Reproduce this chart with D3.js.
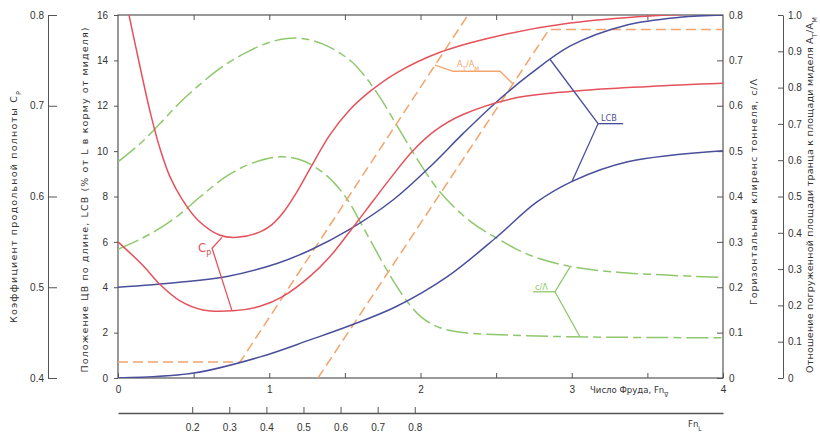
<!DOCTYPE html>
<html>
<head>
<meta charset="utf-8">
<script src="https://cdn.jsdelivr.net/npm/d3@7"></script>
<style>
  body { margin: 0; background: #fff; }
  svg { font-family: "DejaVu Sans Condensed", "DejaVu Sans", sans-serif; }
  .axis text { fill: #333; font-size: 10px; }
  .axis line, .axis path { stroke: #555; }
</style>
</head>
<body>
<svg id="chart" width="820" height="434"></svg>
<script>
// tick labels
const fnTicks = [0, 0.5, 1, 1.5, 2, 2.5, 3, 3.5, 4];
const fnLTicks = [0.2, 0.3, 0.4, 0.5, 0.6, 0.7, 0.8];
const lcbTicks = [0, 2, 4, 6, 8, 10, 12, 14, 16];
const cpTicks = [0.4, 0.5, 0.6, 0.7, 0.8];
const clTicks = [0, 0.1, 0.2, 0.3, 0.4, 0.5, 0.6, 0.7, 0.8];
const atTicks = [0, 0.1, 0.2, 0.3, 0.4, 0.5, 0.6, 0.7, 0.8, 0.9, 1.0];

// series: [Fn_V, value]
const cpUpper = [[0.06, 0.81], [0.145, 0.7435], [0.212, 0.6936], [0.278, 0.6526], [0.344, 0.6216], [0.423, 0.5972],
  [0.522, 0.575], [0.674, 0.5573], [0.787, 0.555], [0.939, 0.561], [1.018, 0.569], [1.091, 0.582], [1.177, 0.6035],
  [1.269, 0.6305], [1.402, 0.6681], [1.534, 0.6958], [1.666, 0.7158], [1.845, 0.7366], [2.129, 0.759],
  [2.506, 0.7767], [2.988, 0.7911], [3.517, 0.7989], [4.0, 0.802]];
const cpLower = [[0, 0.550], [0.165, 0.524], [0.278, 0.503], [0.41, 0.485], [0.562, 0.475], [0.76, 0.474],
  [0.939, 0.479], [1.091, 0.490], [1.269, 0.512], [1.402, 0.534], [1.534, 0.5618], [1.686, 0.595], [1.798, 0.6194],
  [1.95, 0.6504], [2.096, 0.6726], [2.281, 0.6903], [2.612, 0.708], [2.988, 0.7158], [3.517, 0.7213], [4.0, 0.7247]];
const lcbUpper = [[0, 4.0], [0.39, 4.21], [0.721, 4.475], [1.051, 5.05], [1.269, 5.63], [1.534, 6.56], [1.818, 7.845],
  [2.063, 9.31], [2.281, 10.77], [2.506, 12.19], [2.724, 13.39], [2.988, 14.63], [3.365, 15.56], [3.716, 15.9], [4.0, 16.0]];
const lcbLower = [[0, 0], [0.5, 0.22], [0.94, 0.93], [1.27, 1.68], [1.53, 2.3], [1.84, 3.15], [2.18, 4.48],
  [2.51, 6.25], [2.77, 7.76], [3.01, 8.69], [3.37, 9.53], [4.0, 10.02]];
const clUpper = [[0, 0.4765], [0.1455, 0.5163], [0.2777, 0.5607], [0.4099, 0.6072], [0.5421, 0.6471], [0.6744, 0.6825],
  [0.8397, 0.7158], [1.005, 0.7402], [1.1835, 0.749], [1.3554, 0.7357], [1.5339, 0.7003], [1.6331, 0.6648],
  [1.7322, 0.6183], [1.8446, 0.5562], [1.9769, 0.4831], [2.1289, 0.41], [2.3273, 0.3457], [2.5058, 0.308],
  [2.724, 0.2704], [2.9884, 0.246], [3.319, 0.2327], [4.0, 0.2216]];
const clLower = [[0, 0.2837], [0.1455, 0.3058], [0.2777, 0.3302], [0.4099, 0.3612], [0.5421, 0.3989], [0.7207, 0.4454],
  [0.8926, 0.4742], [1.0711, 0.4875], [1.2231, 0.4787], [1.3818, 0.4454], [1.514, 0.3945], [1.6132, 0.3368],
  [1.719, 0.2726], [1.8182, 0.215], [1.9174, 0.1662], [2.0099, 0.133], [2.1289, 0.1108], [2.2942, 0.0997],
  [2.5256, 0.0953], [2.9884, 0.0909], [4.0, 0.0886]];
const atUpper = [[0, 0.044], [0.807, 0.044], [2.314, 1.0]];
const atLower = [[1.322, 0], [2.85, 0.96], [4.0, 0.96]];

// leader lines for the curve labels
const cpLeader = [[0.688, 0.555], [0.622, 0.543], [0.754, 0.474]];
const atLeader = [[2.096, 0.862], [2.215, 0.845], [2.526, 0.845], [2.612, 0.81]];
const lcbLeader = [[2.856, 14.05], [3.174, 11.21], [3.0, 8.64]];
const lcbUnder = [[3.174, 11.21], [3.34, 11.21]];
const clLeader = [[2.99, 0.2455], [2.889, 0.19], [3.054, 0.091]];
const clUnder = [[2.744, 0.19], [2.889, 0.19]];

const red = '#e5525b', green = '#8fc86c', blue = '#4a4f9c', orange = '#f2a56c';

const svg = d3.select('#chart');
svg.append('rect').attr('width', 820).attr('height', 434).attr('fill', '#fff');

const plotLeft = 118, plotRight = 723, plotTop = 15, plotBottom = 378;

const x = d3.scaleLinear().domain([0, 4]).range([plotLeft, plotRight]);
const xL = d3.scaleLinear().domain([0, 1.631]).range([plotLeft, plotRight]);
const yLcb = d3.scaleLinear().domain([0, 16]).range([plotBottom, plotTop]);
const yCp = d3.scaleLinear().domain([0.4, 0.8]).range([plotBottom, plotTop]);
const yCl = d3.scaleLinear().domain([0, 0.8]).range([plotBottom, plotTop]);
const yAt = d3.scaleLinear().domain([0, 1]).range([plotBottom, plotTop]);

const fmt1 = d => d === 0 ? '0' : d3.format('.1f')(d);

svg.append('clipPath').attr('id', 'clip')
  .append('rect').attr('x', plotLeft).attr('y', plotTop)
  .attr('width', plotRight - plotLeft).attr('height', plotBottom - plotTop);

// frame
svg.append('rect')
  .attr('x', plotLeft).attr('y', plotTop)
  .attr('width', plotRight - plotLeft).attr('height', plotBottom - plotTop)
  .attr('fill', 'none').attr('stroke', '#555').attr('stroke-width', 1.2);

// bottom Fn_V axis
svg.append('g').attr('class', 'axis')
  .attr('transform', `translate(0,${plotBottom})`)
  .call(d3.axisBottom(x).tickValues(fnTicks).tickSizeInner(-5).tickSizeOuter(0).tickPadding(8)
    .tickFormat(d => Number.isInteger(d) ? d : ''))
  .call(g => g.select('.domain').remove());

// top ticks
svg.append('g').attr('class', 'axis')
  .attr('transform', `translate(0,${plotTop})`)
  .call(d3.axisTop(x).tickValues(fnTicks.filter(d => d > 0 && d < 4)).tickSizeInner(-5).tickFormat(''))
  .call(g => g.select('.domain').remove());

// left LCB axis
svg.append('g').attr('class', 'axis')
  .attr('transform', `translate(${plotLeft},0)`)
  .call(d3.axisLeft(yLcb).tickValues(lcbTicks).tickSizeInner(4).tickSizeOuter(0).tickPadding(6))
  .call(g => g.select('.domain').remove());

// outer C_P axis
svg.append('g').attr('class', 'axis')
  .attr('transform', 'translate(48,0)')
  .call(d3.axisLeft(yCp).tickValues(cpTicks).tickSizeInner(-9).tickSizeOuter(0).tickPadding(4).tickFormat(fmt1));

// right c/Λ axis
svg.append('g').attr('class', 'axis')
  .attr('transform', `translate(${plotRight},0)`)
  .call(d3.axisRight(yCl).tickValues(clTicks).tickSizeInner(-6).tickSizeOuter(0).tickPadding(6).tickFormat(fmt1))
  .call(g => g.select('.domain').remove());

// far right A_T/A_M axis
svg.append('g').attr('class', 'axis')
  .attr('transform', 'translate(783,0)')
  .call(d3.axisRight(yAt).tickValues(atTicks).tickSizeInner(-5).tickSizeOuter(0).tickPadding(5).tickFormat(fmt1));

// secondary Fn_L axis
svg.append('g').attr('class', 'axis')
  .attr('transform', 'translate(0,413)')
  .call(d3.axisBottom(xL).tickValues(fnLTicks).tickSizeInner(-6).tickSizeOuter(0).tickPadding(11).tickFormat(d3.format('.1f')))
  .call(g => g.select('.domain').attr('stroke-width', 1.4));

// curves
const plot = svg.append('g').attr('clip-path', 'url(#clip)');
const curveLine = yScale => d3.line().x(d => x(d[0])).y(d => yScale(d[1])).curve(d3.curveCatmullRom.alpha(0.5));
const straight = yScale => d3.line().x(d => x(d[0])).y(d => yScale(d[1]));

const series = [
  { data: clUpper, y: yCl, color: green, dash: '22,5,8,5', smooth: true },
  { data: clLower, y: yCl, color: green, dash: '22,5,8,5', smooth: true },
  { data: atUpper, y: yAt, color: orange, dash: '10,5', smooth: false },
  { data: atLower, y: yAt, color: orange, dash: '10,5', smooth: false },
  { data: lcbUpper, y: yLcb, color: blue, dash: null, smooth: true },
  { data: lcbLower, y: yLcb, color: blue, dash: null, smooth: true },
  { data: cpUpper, y: yCp, color: red, dash: null, smooth: true },
  { data: cpLower, y: yCp, color: red, dash: null, smooth: true }
];

series.forEach(s => {
  plot.append('path')
    .datum(s.data)
    .attr('d', s.smooth ? curveLine(s.y) : straight(s.y))
    .attr('fill', 'none')
    .attr('stroke', s.color)
    .attr('stroke-width', 1.5)
    .attr('stroke-dasharray', s.dash);
});

// leaders and labels
const leaders = [
  { data: cpLeader, y: yCp, color: red },
  { data: atLeader, y: yAt, color: orange },
  { data: lcbLeader, y: yLcb, color: blue },
  { data: lcbUnder, y: yLcb, color: blue },
  { data: clLeader, y: yCl, color: green },
  { data: clUnder, y: yCl, color: green }
];
leaders.forEach(l => {
  svg.append('path')
    .datum(l.data)
    .attr('d', straight(l.y))
    .attr('fill', 'none')
    .attr('stroke', l.color)
    .attr('stroke-width', 1.3);
});

function label(px, py, parts, color, size, anchor) {
  const t = svg.append('text')
    .attr('x', px).attr('y', py)
    .attr('fill', color)
    .attr('font-size', size)
    .attr('text-anchor', anchor || 'start');
  parts.forEach(p => {
    t.append('tspan')
      .attr('baseline-shift', p.sub ? 'sub' : null)
      .attr('font-size', p.sub ? size * 0.7 : null)
      .text(p.t);
  });
  return t;
}

label(x(cpLeader[1][0]) - 1, yCp(cpLeader[1][1]) + 4, [{ t: 'C' }, { t: 'P', sub: true }], red, 13, 'end');
label(x(atLeader[1][0]) + 4, yAt(atLeader[1][1]) - 4, [{ t: 'A' }, { t: 'T', sub: true }, { t: '/A' }, { t: 'M', sub: true }], orange, 9);
label(x(lcbUnder[0][0]) + 3, yLcb(lcbUnder[0][1]) - 3, [{ t: 'LCB' }], blue, 9);
label(x(clUnder[0][0]) + 2, yCl(clUnder[0][1]) - 2, [{ t: 'c/Λ' }], green, 9);

// axis titles, stretched to the span they take in the source
function vtitle(px, py, parts, size, span) {
  const t = label(px, py, parts, '#333', size, 'middle');
  t.attr('font-family', '"DejaVu Sans", sans-serif')
    .attr('textLength', span)
    .attr('lengthAdjust', 'spacing')
    .attr('transform', `rotate(-90,${px},${py})`);
}
vtitle(17, 207, [{ t: 'Коэффициент продольной полноты C' }, { t: 'P', sub: true }], 9.5, 232);
vtitle(88, 200, [{ t: 'Положение ЦВ по длине, LCB (% от L в корму от миделя)' }], 9.5, 345);
vtitle(757, 192, [{ t: 'Горизонтальный клиренс тоннеля, c/Λ' }], 9.5, 226);
vtitle(813, 195, [{ t: 'Отношение погруженной площади транца к площади миделя A' }, { t: 'T', sub: true }, { t: '/A' }, { t: 'M', sub: true }], 9.5, 356);

label(590, 393, [{ t: 'Число Фруда, Fn' }, { t: '∇', sub: true }], '#333', 9.5);
label(688, 427, [{ t: 'Fn' }, { t: 'L', sub: true }], '#333', 9.5);
</script>
</body>
</html>
